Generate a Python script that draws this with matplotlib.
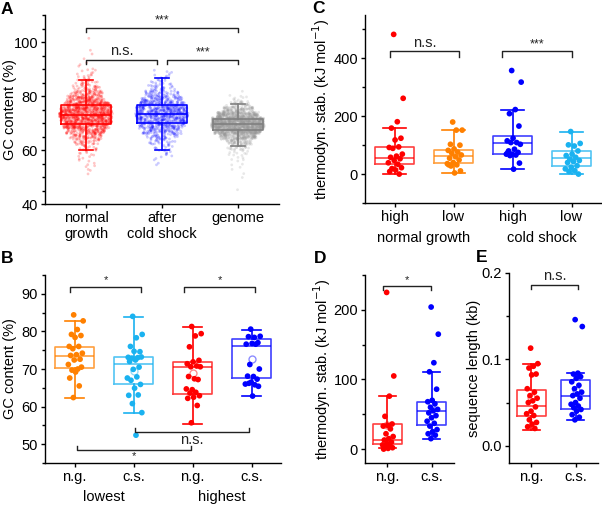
import numpy as np
import matplotlib
matplotlib.use("Agg")
import matplotlib.pyplot as plt
from matplotlib.ticker import MultipleLocator, FormatStrFormatter
import matplotlib.transforms as mtransforms

plt.rcParams['font.family'] = ['Liberation Sans', 'DejaVu Sans']
plt.rcParams['font.size'] = 10.5
plt.rcParams['axes.linewidth'] = 1.0

# ---------------- DATA ----------------
# Panel A: GC content distributions (histogram counts, 2 % bins, read from the point clouds)
a_categories = ["normal\ngrowth", "after\ncold shock", "genome"]
a_bin_width = 2.0
a_ng_bins = [50, 52, 54, 56, 58, 60, 62, 64, 66, 68, 70, 72, 74, 76, 78, 80, 82, 84, 86, 88, 90, 92, 94, 96, 100]
a_ng_counts = [1, 3, 4, 5, 8, 14, 30, 58, 100, 150, 190, 208, 190, 150, 100, 58, 30, 18, 10, 6, 3, 2, 1, 1, 1]
a_cs_bins = [54, 56, 58, 60, 62, 64, 66, 68, 70, 72, 74, 76, 78, 80, 82, 84, 86, 88]
a_cs_counts = [2, 4, 7, 10, 20, 38, 68, 100, 130, 145, 140, 112, 75, 42, 22, 12, 7, 4]
a_gn_bins = [44, 48, 50, 52, 54, 56, 58, 60, 62, 64, 66, 68, 70, 72, 74, 76, 78, 80]
a_gn_counts = [1, 1, 1, 2, 3, 5, 10, 25, 60, 150, 300, 400, 370, 220, 90, 30, 8, 2]
# box stats: [whisker low, q1, median, q3, whisker high]
a_box_ng = [60.0, 69.8, 73.0, 76.5, 86.0]
a_box_cs = [60.0, 70.0, 73.5, 76.7, 86.5]
a_box_gn = [61.5, 67.5, 69.7, 71.5, 77.0]

# Panel B: GC content of lowest / highest
b_ticklabels = ["n.g.", "c.s.", "n.g.", "c.s."]
b_groups = ["lowest", "highest"]
b_orange = [84.4, 82.8, 80.5, 79.2, 78.9, 78.4, 76.0, 76.0, 75.4, 74.2, 73.8, 73.6, 72.6,
            72.4, 71.2, 70.0, 69.7, 70.5, 69.2, 67.6, 65.5, 62.4]
b_cyan = [84.0, 79.2, 78.3, 76.0, 74.6, 74.7, 73.1, 73.0, 72.9, 73.2, 72.4, 72.0, 70.5,
          69.9, 67.6, 67.9, 67.0, 65.9, 64.9, 63.0, 63.1, 60.8, 58.4, 52.4]
b_red = [81.3, 79.4, 78.8, 75.9, 72.3, 71.9, 71.4, 70.8, 70.6, 70.6, 67.4, 68.0, 67.2,
         64.5, 64.7, 63.8, 63.6, 62.9, 62.5, 62.2, 60.3, 55.7]
b_blue = [80.6, 78.7, 78.4, 78.6, 77.0, 76.8, 76.6, 76.6, 71.2, 70.0, 68.0, 68.1, 67.3,
          66.5, 66.0, 65.8, 66.2, 65.4, 62.8]
b_box_orange = [62.3, 70.2, 73.4, 75.9, 82.8]
b_box_cyan = [58.3, 66.0, 71.3, 73.2, 83.8]
b_box_red = [55.5, 63.4, 70.5, 71.9, 81.2]
b_box_blue = [62.8, 67.6, 76.0, 78.0, 80.5]
b_means = [73.3, 69.5, 68.9, 72.7]

# Panel C: thermodynamic stability
c_ticklabels = ["high", "low", "high", "low"]
c_groups = ["normal growth", "cold shock"]
c_red = [483, 262, 181, 159, 124, 118, 92, 94, 89, 69, 62, 58, 53, 47, 39, 34, 19, 22, 14, 9, 0]
c_orange = [180, 152, 152, 103, 100, 87, 82, 76, 72, 66, 60, 55, 49, 40, 36, 32, 28, 11, 4, 32]
c_blue = [358, 318, 223, 209, 166, 124, 115, 109, 109, 103, 86, 80, 75, 69, 69, 66, 64, 38, 17, 74]
c_cyan = [147, 106, 97, 101, 80, 69, 64, 58, 52, 47, 43, 40, 29, 24, 18, 12, 9, 0]
c_box_red = [0, 36, 57, 94, 160]
c_box_orange = [3, 37, 61, 83.5, 152]
c_box_blue = [17, 69, 109, 132, 223]
c_box_cyan = [0, 29, 54, 80, 147]

# Panel D: thermodynamic stability n.g. vs c.s.
de_ticklabels = ["n.g.", "c.s."]
d_red = [225, 105, 76, 47, 36, 34, 33, 29, 22, 18, 15, 13, 10, 8, 6, 4, 3, 2, 1, 0]
d_blue = [204, 165, 124, 111, 86, 70, 68, 65, 60, 57, 55, 52, 48, 45, 40, 37, 33, 28, 25, 22, 20, 15]
d_box_red = [1, 7, 13, 36, 76]
d_box_blue = [15, 34, 54, 68, 111]

# Panel E: sequence length
e_red = [0.113, 0.095, 0.092, 0.090, 0.083, 0.082, 0.066, 0.062, 0.058, 0.055, 0.052,
         0.050, 0.045, 0.040, 0.037, 0.035, 0.030, 0.027, 0.025, 0.022, 0.020]
e_blue = [0.146, 0.138, 0.084, 0.083, 0.080, 0.078, 0.074, 0.070, 0.066, 0.062, 0.060,
          0.058, 0.055, 0.050, 0.048, 0.046, 0.044, 0.042, 0.040, 0.036, 0.033, 0.030]
e_box_red = [0.018, 0.034, 0.046, 0.064, 0.095]
e_box_blue = [0.030, 0.043, 0.058, 0.076, 0.084]

# ---------------- STYLE ----------------
RED = '#ff0000'
BLUE = '#0000ff'
GRAY = '#808080'
ORANGE = '#ff8000'
CYAN = '#1ab2f0'
FS = 10.5

W, H = 602, 505
fig = plt.figure(figsize=(W / 100, H / 100), dpi=100)


def px_axes(l, r, t, b):
    return fig.add_axes([l / W, 1 - b / H, (r - l) / W, (b - t) / H])


def style_axes(ax):
    for s in ('top', 'right'):
        ax.spines[s].set_visible(False)
    ax.tick_params(axis='both', which='major', direction='out', length=3.2, width=1.0,
                   pad=1.8, labelsize=FS)
    ax.tick_params(axis='y', which='minor', direction='out', length=2.0, width=1.0)
    ax.tick_params(axis='x', which='minor', bottom=False)


def draw_box(ax, stat, pos, color, width=0.65, capfrac=0.6, mean=None, box_alpha=0.75, lw=1.2):
    st = {'whislo': stat[0], 'q1': stat[1], 'med': stat[2], 'q3': stat[3], 'whishi': stat[4]}
    if mean is not None:
        st['mean'] = mean
    ax.bxp([st], positions=[pos], widths=width, showfliers=False, showmeans=mean is not None,
           capwidths=width * capfrac,
           boxprops=dict(color=color, linewidth=lw, alpha=box_alpha),
           whiskerprops=dict(color=color, linewidth=lw),
           capprops=dict(color=color, linewidth=lw),
           medianprops=dict(color=color, linewidth=lw, alpha=box_alpha),
           meanprops=dict(marker='o', markerfacecolor='none', markeredgecolor=color,
                          markersize=5, alpha=0.45, markeredgewidth=1.0),
           manage_ticks=False, zorder=2)


def jitter(n, center, width=0.13, shift=0.02):
    k = np.arange(n)
    return center + shift + width * (2 * ((k * 0.6180339887 + 0.37) % 1.0) - 1)


def dots(ax, vals, pos, color):
    ax.scatter(jitter(len(vals), pos), vals, s=17, color=color, edgecolors='none', zorder=4)


def bracket(ax, x1, x2, y, h, text, ty, fs, va='bottom'):
    ax.plot([x1, x1, x2, x2], [y - h, y, y, y - h], color='#222222', lw=1.0, zorder=5)
    ax.text((x1 + x2) / 2, ty, text, ha='center', va=va, fontsize=fs, color='#222222')


def hash01(k):
    # deterministic integer hash -> [0, 1), used only for jitter placement
    x = (int(k) * 2654435761 + 0x9E3779B9) & 0xFFFFFFFF
    x ^= x >> 16
    x = (x * 0x45D9F3B) & 0xFFFFFFFF
    x ^= x >> 16
    x = (x * 0x45D9F3B) & 0xFFFFFFFF
    x ^= x >> 16
    return x / 4294967296.0


def cloud(ax, bins, counts, binw, center, color, alpha, seed):
    cmax = max(counts)
    xs, ys = [], []
    idx = seed * 100000
    for lo, c in zip(bins, counts):
        hw = 0.10 + 0.25 * (c / cmax) ** 0.6
        for j in range(c):
            u = hash01(2 * idx)
            v = (j + hash01(2 * idx + 1)) / c
            xs.append(center + hw * (2 * u - 1))
            ys.append(lo + binw * v)
            idx += 1
    ax.scatter(xs, ys, s=4, color=color, alpha=alpha, edgecolors='none', zorder=1)


# ---------------- PANEL A ----------------
axA = px_axes(45, 279, 15, 204)
style_axes(axA)
cloud(axA, a_ng_bins, a_ng_counts, a_bin_width, 1, RED, 0.22, 1)
cloud(axA, a_cs_bins, a_cs_counts, a_bin_width, 2, BLUE, 0.2, 2)
cloud(axA, a_gn_bins, a_gn_counts, a_bin_width, 3, '#999999', 0.22, 3)
draw_box(axA, a_box_ng, 1, RED, width=0.67, capfrac=0.26, box_alpha=1.0, lw=1.2)
draw_box(axA, a_box_cs, 2, BLUE, width=0.67, capfrac=0.26, box_alpha=1.0, lw=1.2)
draw_box(axA, a_box_gn, 3, GRAY, width=0.67, capfrac=0.26, box_alpha=1.0, lw=1.2)
axA.set_xlim(0.46, 3.54)
axA.set_ylim(40, 110)
axA.yaxis.set_major_locator(MultipleLocator(20))
axA.yaxis.set_minor_locator(MultipleLocator(5))
axA.set_xticks([1, 2, 3])
axA.set_xticklabels(a_categories, linespacing=1.15)
axA.set_ylabel("GC content (%)", fontsize=FS)
axA.yaxis.set_label_coords(-0.12, 0.5)
bracket(axA, 1, 3, 105.2, 1.5, "***", 105.8, 9)
bracket(axA, 1, 1.93, 93.3, 1.5, "n.s.", 94.0, FS)
bracket(axA, 2.07, 3, 93.3, 1.5, "***", 94.0, 9)

# ---------------- PANEL B ----------------
axB = px_axes(45, 281, 275, 463)
style_axes(axB)
draw_box(axB, b_box_orange, 1, ORANGE, capfrac=0.5, mean=b_means[0])
draw_box(axB, b_box_cyan, 2, CYAN, capfrac=0.5, mean=b_means[1])
draw_box(axB, b_box_red, 3, RED, capfrac=0.5, mean=b_means[2])
draw_box(axB, b_box_blue, 4, BLUE, capfrac=0.5, mean=b_means[3])
dots(axB, b_orange, 1, ORANGE)
dots(axB, b_cyan, 2, CYAN)
dots(axB, b_red, 3, RED)
dots(axB, b_blue, 4, BLUE)
axB.set_xlim(0.5, 4.5)
axB.set_ylim(45, 95)
axB.yaxis.set_major_locator(MultipleLocator(10))
axB.yaxis.set_minor_locator(MultipleLocator(5))
axB.set_xticks([1, 2, 3, 4])
axB.set_xticklabels(b_ticklabels)
axB.set_ylabel("GC content (%)", fontsize=FS)
axB.yaxis.set_label_coords(-0.118, 0.5)
bracket(axB, 0.93, 2.12, 91.8, 1.2, "*", 92.3, 8)
bracket(axB, 2.86, 4.06, 91.8, 1.2, "*", 92.3, 8)
bracket(axB, 2.02, 3.96, 53.3, -1.0, "n.s.", 53.0, FS, va='top')
bracket(axB, 1.05, 2.98, 48.5, -1.0, "*", 48.2, 8, va='top')
trB = mtransforms.blended_transform_factory(axB.transData, axB.transAxes)
axB.text(1.5, -0.2, b_groups[0], transform=trB, ha='center', va='baseline', fontsize=FS)
axB.text(3.5, -0.2, b_groups[1], transform=trB, ha='center', va='baseline', fontsize=FS)

# ---------------- PANEL C ----------------
axC = px_axes(365, 601, 15, 203)
style_axes(axC)
draw_box(axC, c_box_red, 1, RED, capfrac=0.6)
draw_box(axC, c_box_orange, 2, ORANGE, capfrac=0.6)
draw_box(axC, c_box_blue, 3, BLUE, capfrac=0.6)
draw_box(axC, c_box_cyan, 4, CYAN, capfrac=0.6)
dots(axC, c_red, 1, RED)
dots(axC, c_orange, 2, ORANGE)
dots(axC, c_blue, 3, BLUE)
dots(axC, c_cyan, 4, CYAN)
axC.set_xlim(0.5, 4.5)
axC.set_ylim(-100, 550)
axC.yaxis.set_major_locator(MultipleLocator(200))
axC.yaxis.set_minor_locator(MultipleLocator(100))
axC.set_xticks([1, 2, 3, 4])
axC.set_xticklabels(c_ticklabels)
axC.set_ylabel("thermodyn. stab. (kJ mol$^{-1}$)", fontsize=FS)
axC.yaxis.set_label_coords(-0.138, 0.5)
bracket(axC, 0.92, 2.1, 424, 18, "n.s.", 428, FS)
bracket(axC, 2.83, 4.01, 424, 18, "***", 428, 9)
trC = mtransforms.blended_transform_factory(axC.transData, axC.transAxes)
axC.text(1.5, -0.205, c_groups[0], transform=trC, ha='center', va='baseline', fontsize=FS)
axC.text(3.5, -0.205, c_groups[1], transform=trC, ha='center', va='baseline', fontsize=FS)

# ---------------- PANEL D ----------------
axD = px_axes(365, 454, 275, 463)
style_axes(axD)
draw_box(axD, d_box_red, 1, RED, capfrac=0.6, mean=float(np.mean(d_red)))
draw_box(axD, d_box_blue, 2, BLUE, capfrac=0.6, mean=float(np.mean(d_blue)))
dots(axD, d_red, 1, RED)
dots(axD, d_blue, 2, BLUE)
axD.set_xlim(0.5, 2.5)
axD.set_ylim(-20, 250)
axD.yaxis.set_major_locator(MultipleLocator(100))
axD.yaxis.set_minor_locator(MultipleLocator(50))
axD.set_xticks([1, 2])
axD.set_xticklabels(de_ticklabels)
axD.set_ylabel("thermodyn. stab. (kJ mol$^{-1}$)", fontsize=FS)
axD.yaxis.set_label_coords(-0.365, 0.5)
bracket(axD, 0.9, 1.98, 234, 5, "*", 236, 8)

# ---------------- PANEL E ----------------
axE = px_axes(509, 598, 273, 463)
style_axes(axE)
draw_box(axE, e_box_red, 1, RED, capfrac=0.6, mean=float(np.mean(e_red)))
draw_box(axE, e_box_blue, 2, BLUE, capfrac=0.6, mean=float(np.mean(e_blue)))
dots(axE, e_red, 1, RED)
dots(axE, e_blue, 2, BLUE)
axE.set_xlim(0.5, 2.5)
axE.set_ylim(-0.02, 0.2)
axE.yaxis.set_major_locator(MultipleLocator(0.1))
axE.yaxis.set_minor_locator(MultipleLocator(0.05))
axE.yaxis.set_major_formatter(FormatStrFormatter('%.1f'))
axE.set_xticks([1, 2])
axE.set_xticklabels(de_ticklabels)
axE.set_ylabel("sequence length (kb)", fontsize=FS)
axE.yaxis.set_label_coords(-0.31, 0.5)
bracket(axE, 1.0, 2.05, 0.186, 0.005, "n.s.", 0.188, FS)

# panel letters
for lab, x, y in [("A", 1, 2), ("B", 1, 251), ("C", 312, 1), ("D", 314, 251), ("E", 476, 250)]:
    fig.text(x / W, 1 - y / H, lab, fontsize=12.5, fontweight='bold', ha='left', va='top')

fig.savefig("out.png", dpi=100)
